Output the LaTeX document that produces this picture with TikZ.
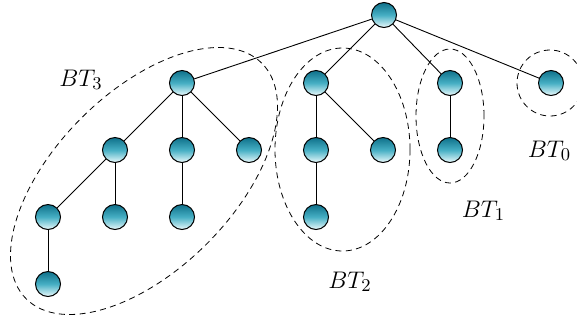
\documentclass[tikz,border=0pt]{standalone}
\usetikzlibrary{shapes.geometric}
\definecolor{balltop}{RGB}{15,112,138}
\definecolor{ballmid}{RGB}{70,175,196}
\definecolor{ballbot}{RGB}{235,250,252}
\tikzset{
  tn/.style={circle, draw=black, line width=0.5pt, minimum size=12.5pt, inner sep=0pt,
    top color=balltop, bottom color=ballbot, middle color=ballmid},
  edge/.style={line width=0.45pt},
  grp/.style={dashed, dash pattern=on 3pt off 2.2pt, line width=0.4pt},
  lbl/.style={font=\fontsize{12.8}{15}\selectfont, anchor=base, inner sep=0pt}
}
\begin{document}
\begin{tikzpicture}[x=0.5pt,y=-0.5pt]
\useasboundingbox (0,0) rectangle (577,323);
% groups
\draw[grp, rotate around={45:(144,181)}] (144,181) ellipse [x radius=83.3pt, y radius=44.4pt];
\draw[grp] (342.5,149.5) ellipse [x radius=33.75pt, y radius=50.75pt];
\draw[grp] (450,116) ellipse [x radius=17pt, y radius=33.5pt];
\draw[grp] (550,83) circle [radius=16.5pt];
% nodes
\node[tn] (r) at (384,15) {};
\node[tn] (a) at (182,83) {};
\node[tn] (b) at (316,83) {};
\node[tn] (c) at (450,83) {};
\node[tn] (d) at (551,83) {};
\node[tn] (a1) at (115,150) {};
\node[tn] (a2) at (182,150) {};
\node[tn] (a3) at (249,150) {};
\node[tn] (a11) at (48,217) {};
\node[tn] (a12) at (115,217) {};
\node[tn] (a21) at (182,217) {};
\node[tn] (a111) at (48,284) {};
\node[tn] (b1) at (316,150) {};
\node[tn] (b2) at (383,150) {};
\node[tn] (b11) at (316,217) {};
\node[tn] (c1) at (450,150) {};
% edges
\foreach \u/\v in {r/a, r/b, r/c, r/d, a/a1, a/a2, a/a3, a1/a11, a1/a12, a2/a21, a11/a111, b/b1, b/b2, b1/b11, c/c1}
  \draw[edge] (\u) -- (\v);
% labels
\node[lbl] (l3) at (81,86) {$BT_3$};
\node[lbl] (l2) at (350,288) {$BT_2$};
\node[lbl] (l1) at (483.5,217) {$BT_1$};
\node[lbl] (l0) at (549.5,157) {$BT_0$};
\end{tikzpicture}
\end{document}
